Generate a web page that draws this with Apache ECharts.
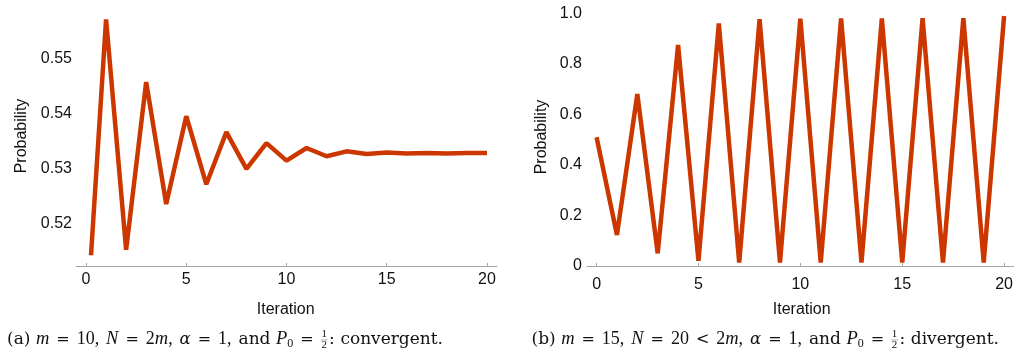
<!DOCTYPE html>
<html>
<head>
<meta charset="utf-8">
<script src="https://cdn.jsdelivr.net/npm/echarts@6/dist/echarts.min.js"></script>
<style>
html,body{margin:0;padding:0;background:#fff;}
#chart{width:1016px;height:354px;}
</style>
</head>
<body>
<div id="chart"></div>
<script>
// ---- data ----
var iterations = [0,1,2,3,4,5,6,7,8,9,10,11,12,13,14,15,16,17,18,19,20];
var probConvergent = [0.5000,0.5571,0.5152,0.5457,0.5235,0.5395,0.5271,0.5366,0.5299,0.5346,0.5314,0.5337,0.5322,0.5331,0.5326,0.5329,0.5327,0.5328,0.5327,0.5328,0.5328];
var probDivergent = [0.510,0.123,0.681,0.050,0.875,0.021,0.961,0.014,0.978,0.014,0.979,0.014,0.980,0.014,0.980,0.014,0.981,0.014,0.981,0.014,0.990];
var xTicks = [0,5,10,15,20];
var yTicksLeft = [0.52,0.53,0.54,0.55];
var yTicksRight = [0,0.2,0.4,0.6,0.8,1.0];
var xName = 'Iteration';
var yName = 'Probability';
// caption pieces: [text, kind, gapAfter]  w = word, d = digits, i = italic letter, g = greek italic, o = operator, s = subscript, f = fraction 1/2
var captionA = [['(a)','w',4],['m','i',5],['=','o',5],['10,','d',5],['N','i',5],['=','o',5],['2','d',0],['m','i',0],[',','d',5],['α','g',5],['=','o',5],['1,','d',5],['and','w',4],['P','i',0],['0','s',5],['=','o',5],['','f',1],[':','w',4],['convergent.','w',0]];
var captionB = [['(b)','w',4],['m','i',5],['=','o',5],['15,','d',5],['N','i',5],['=','o',5],['20','d',5],['<','o',5],['2','d',0],['m','i',0],[',','d',5],['α','g',5],['=','o',5],['1,','d',5],['and','w',4],['P','i',0],['0','s',5],['=','o',5],['','f',1],[':','w',4],['divergent.','w',0]];

function pairs(xs, ys){ return xs.map(function(x,i){ return [x, ys[i]]; }); }

// ---- layout ----
var capSpanA = [7, 443];
var capSpanB = [531.5, 999];

var lineColor = '#cc3700';
var axisGray = '#a6a6a6';
var sans = '"Liberation Sans", Arial, sans-serif';
var serifW = '"DejaVu Serif", serif';
var serifM = '"Liberation Serif", "Times New Roman", serif';
var textColor = '#111';

var chart = echarts.init(document.getElementById('chart'), null, {renderer:'canvas'});

function xAxisCfg(gridIndex, min, max, offset, margin){
  return {
    type:'value', gridIndex:gridIndex, min:min, max:max, offset:offset,
    axisLine:{show:true, lineStyle:{color:axisGray, width:1}},
    axisTick:{show:true, inside:true, length:3, customValues:xTicks, lineStyle:{color:axisGray}},
    axisLabel:{customValues:xTicks, color:textColor, fontFamily:sans, fontSize:16, margin:margin},
    splitLine:{show:false}
  };
}
function yAxisCfg(gridIndex, min, max, ticks, fmt, margin){
  return {
    type:'value', gridIndex:gridIndex, min:min, max:max,
    axisLine:{show:false}, axisTick:{show:false},
    axisLabel:{customValues:ticks, formatter:fmt, color:textColor, fontFamily:sans, fontSize:16, margin:margin},
    splitLine:{show:false}
  };
}

var capY = 339.5;
var pieceStyle = {
  w: {fontFamily:serifW, fontSize:17, fontStyle:'normal', dy:0},
  d: {fontFamily:serifM, fontSize:18, fontStyle:'normal', dy:0},
  i: {fontFamily:serifM, fontSize:18.5, fontStyle:'italic', dy:0},
  g: {fontFamily:serifW, fontSize:16.5, fontStyle:'italic', dy:0},
  o: {fontFamily:serifW, fontSize:16, fontStyle:'normal', dy:0.5},
  s: {fontFamily:serifM, fontSize:12, fontStyle:'normal', dy:4.5}
};
var measureCtx = document.createElement('canvas').getContext('2d');
function pieceWidth(p){
  if (p[1] === 'f') return 7;
  var st = pieceStyle[p[1]];
  measureCtx.font = st.fontStyle + ' ' + st.fontSize + 'px ' + st.fontFamily;
  return measureCtx.measureText(p[0]).width;
}
function captionElements(pieces, span){
  var widths = pieces.map(pieceWidth);
  var totalW = widths.reduce(function(a,b){return a+b;},0);
  var totalGap = pieces.reduce(function(a,p){return a+p[2];},0);
  var scale = (span[1]-span[0]-totalW)/totalGap;
  var out = [];
  var x = span[0];
  pieces.forEach(function(p, k){
    var t = p[0], kind = p[1];
    if (kind === 'f') {
      var cx = x + 3.5;
      out.push({type:'text', x:cx, y:capY-5, style:{text:'1', fontFamily:serifM, fontSize:11, fill:textColor, align:'center', verticalAlign:'middle'}});
      out.push({type:'line', shape:{x1:cx-3.5, y1:capY+0.5, x2:cx+3.5, y2:capY+0.5}, style:{stroke:'#666', lineWidth:0.5}});
      out.push({type:'text', x:cx, y:capY+6, style:{text:'2', fontFamily:serifM, fontSize:11, fill:textColor, align:'center', verticalAlign:'middle'}});
    } else {
      var st = pieceStyle[kind];
      out.push({type:'text', x:x, y:capY + st.dy, style:{text:t, fontFamily:st.fontFamily, fontSize:st.fontSize, fontStyle:st.fontStyle, fill:textColor, align:'left', verticalAlign:'middle'}});
    }
    x += widths[k] + p[2]*scale;
  });
  return out;
}

var graphics = [
  {type:'text', x:21.7, y:136, rotation:Math.PI/2, style:{text:yName, fontFamily:sans, fontSize:16, fill:textColor, align:'center', verticalAlign:'middle'}},
  {type:'text', x:541.7, y:137, rotation:Math.PI/2, style:{text:yName, fontFamily:sans, fontSize:16, fill:textColor, align:'center', verticalAlign:'middle'}},
  {type:'text', x:285.7, y:310, style:{text:xName, fontFamily:sans, fontSize:16, fill:textColor, align:'center', verticalAlign:'middle'}},
  {type:'text', x:801.7, y:310, style:{text:xName, fontFamily:sans, fontSize:16, fill:textColor, align:'center', verticalAlign:'middle'}}
].concat(captionElements(captionA, capSpanA)).concat(captionElements(captionB, capSpanB));

var option = {
  animation:false,
  backgroundColor:'#fff',
  grid:[
    {left:76, top:15, width:421, height:238},
    {left:587, top:10, width:430, height:260}
  ],
  xAxis:[
    xAxisCfg(0, -0.5, 20.5, 13, 6),
    xAxisCfg(1, -0.47, 20.47, 0, 7)
  ],
  yAxis:[
    yAxisCfg(0, 0.5146, 0.5579, yTicksLeft, function(v){ return v.toFixed(2); }, 4),
    yAxisCfg(1, -0.0158, 1.0139, yTicksRight, function(v){ return v === 0 ? '0' : v.toFixed(1); }, 5)
  ],
  graphic: graphics,
  series:[
    {type:'line', xAxisIndex:0, yAxisIndex:0, data:pairs(iterations, probConvergent), showSymbol:false, symbol:'none', clip:true,
     lineStyle:{color:lineColor, width:4.5, join:'bevel', cap:'butt'}},
    {type:'line', xAxisIndex:1, yAxisIndex:1, data:pairs(iterations, probDivergent), showSymbol:false, symbol:'none', clip:true,
     lineStyle:{color:lineColor, width:4.5, join:'bevel', cap:'butt'}}
  ]
};
chart.setOption(option);
</script>
</body>
</html>
